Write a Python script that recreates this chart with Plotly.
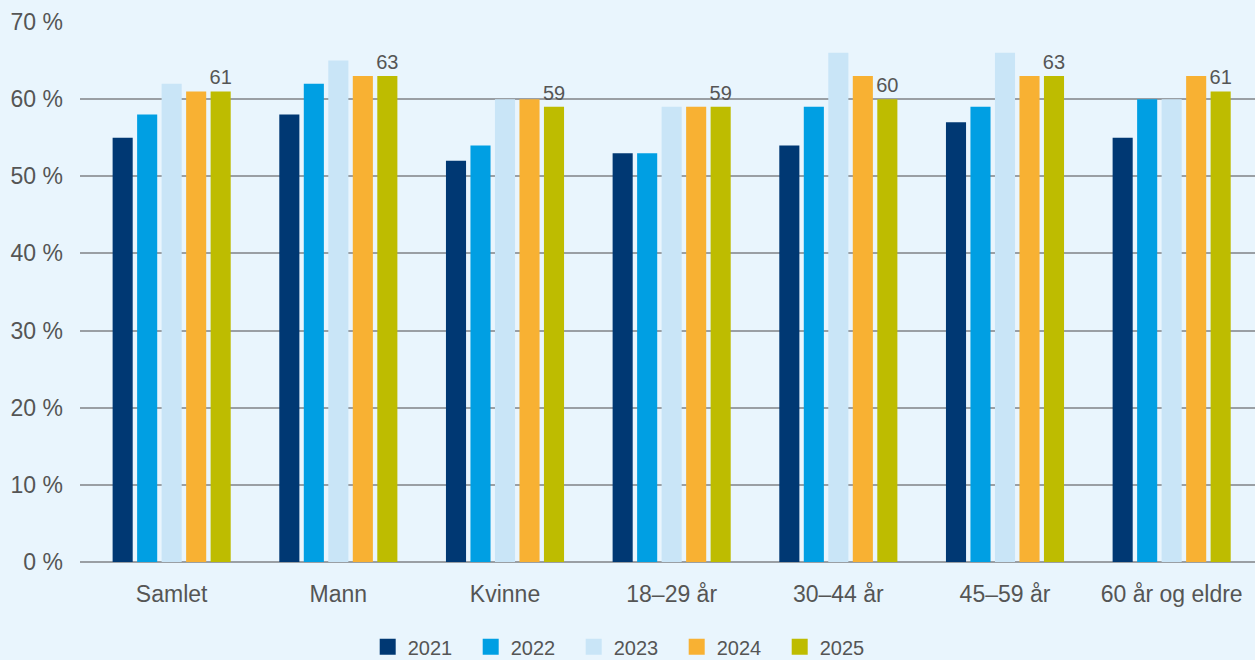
import plotly.graph_objects as go

categories = ["Samlet", "Mann", "Kvinne", "18–29 år", "30–44 år", "45–59 år", "60 år og eldre"]
years = ["2021", "2022", "2023", "2024", "2025"]
v2021 = [55, 58, 52, 53, 54, 57, 55]
v2022 = [58, 62, 54, 53, 59, 59, 60]
v2023 = [62, 65, 60, 59, 66, 66, 60]
v2024 = [61, 63, 60, 59, 63, 63, 63]
v2025 = [61, 63, 59, 59, 60, 63, 61]
colors = ["#003873", "#009FE3", "#C9E5F7", "#F8B133", "#BEBC00"]

series = [v2021, v2022, v2023, v2024, v2025]
font = "Liberation Sans, Arial, sans-serif"
grey = "#555555"

fig = go.Figure()
for i, (yr, vals) in enumerate(zip(years, series)):
    last = i == len(years) - 1
    fig.add_trace(go.Bar(
        x=categories, y=vals, name=yr,
        marker_color=colors[i], marker_line_width=0,
        showlegend=False,
        text=vals if last else None,
        textposition="outside" if last else "none",
        textfont=dict(size=20, color=grey, family=font),
        constraintext="none",
        cliponaxis=False,
        hoverinfo="x+y+name",
    ))

# legend entries with bigger square symbols
for i, yr in enumerate(years):
    fig.add_trace(go.Scatter(
        x=[None], y=[None], mode="markers", name=yr,
        marker=dict(symbol="square", size=16, color=colors[i]),
        showlegend=True,
    ))

fig.update_layout(
    width=1255, height=660,
    margin=dict(l=80, r=0, t=22, b=98),
    paper_bgcolor="#E9F5FD", plot_bgcolor="#E9F5FD",
    barmode="group", bargap=0.265, bargroupgap=0.18,
    font=dict(family=font, size=20, color=grey),
    legend=dict(orientation="h", xref="paper", x=0.464, xanchor="center",
                yref="container", y=0.02, yanchor="middle",
                font=dict(size=20, color=grey), bgcolor="rgba(0,0,0,0)",
                entrywidth=58, itemclick=False),
)
fig.update_xaxes(range=[-0.55, 6.5], showgrid=False, zeroline=False, showline=False,
                 ticks="", tickfont=dict(size=23, color=grey), ticklabelstandoff=16)
fig.update_yaxes(range=[0, 70], dtick=10, ticksuffix=" %", showgrid=True,
                 gridcolor="#9A9FA4", gridwidth=1.5, zeroline=True, zerolinecolor="#9A9FA4",
                 zerolinewidth=1.5, showline=False, ticks="",
                 tickfont=dict(size=23, color=grey), ticklabelstandoff=16)

fig.write_html("out.html", config={"displayModeBar": False},
               post_script="document.body.style.margin='0';")
